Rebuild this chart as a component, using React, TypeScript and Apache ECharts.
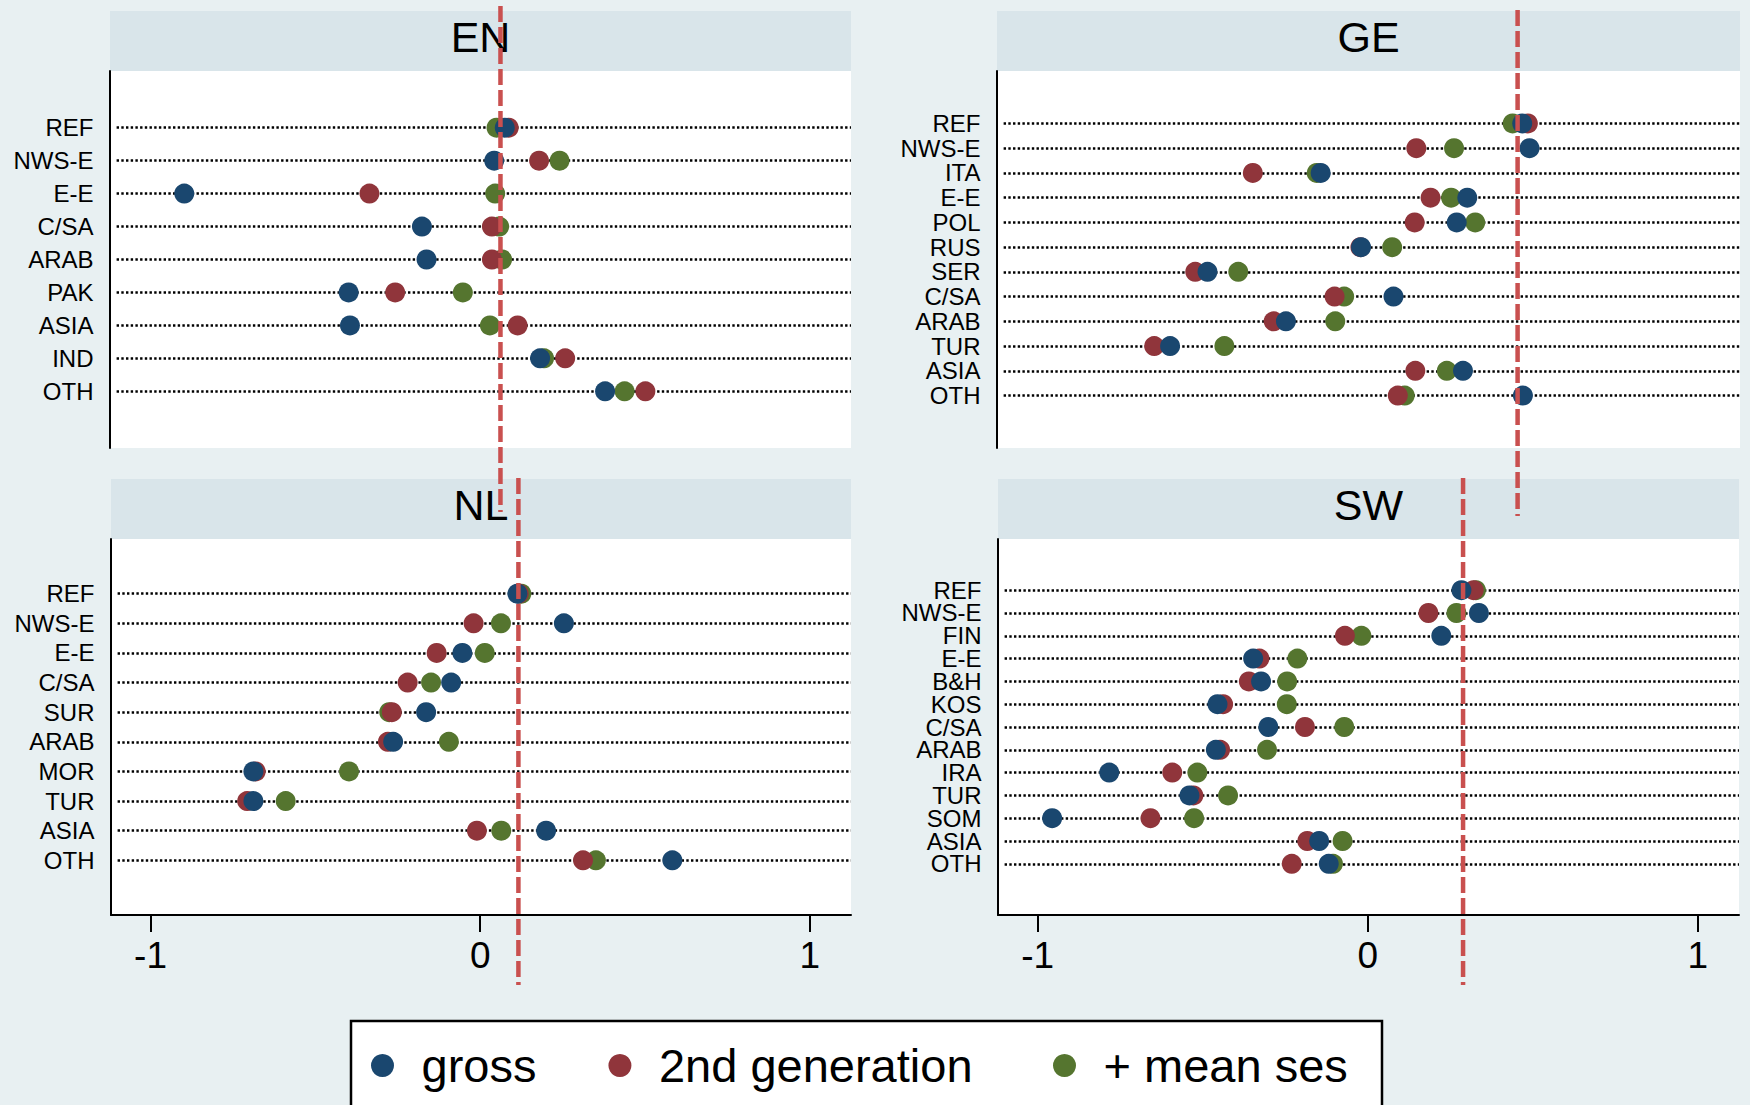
import React, { useEffect, useRef } from "react";
import * as echarts from "echarts";

const FONT = "'Liberation Sans', Arial, Helvetica, sans-serif";

// Legend / series names
const seriesNames = ["gross", "2nd generation", "+ mean ses"];
const COLOR_GROSS = "#1a476f";
const COLOR_SECOND = "#90353b";
const COLOR_SES = "#55752f";

// Shared x axis
const xTicks = [-1, 0, 1];
const X_MIN = -1.12;
const X_MAX = 1.125;

// EN
const enCats = ["REF", "NWS-E", "E-E", "C/SA", "ARAB", "PAK", "ASIA", "IND", "OTH"];
const enGross = [0.076, 0.044, -0.895, -0.175, -0.161, -0.397, -0.393, 0.183, 0.38];
const enSecond = [0.088, 0.18, -0.334, 0.037, 0.037, -0.256, 0.115, 0.259, 0.502];
const enSes = [0.051, 0.242, 0.047, 0.059, 0.068, -0.051, 0.031, 0.195, 0.439];
const enRef = 0.063;

// GE
const geCats = ["REF", "NWS-E", "ITA", "E-E", "POL", "RUS", "SER", "C/SA", "ARAB", "TUR", "ASIA", "OTH"];
const geGross = [0.467, 0.489, -0.142, 0.301, 0.269, -0.02, -0.484, 0.078, -0.247, -0.597, 0.288, 0.469];
const geSecond = [0.484, 0.147, -0.347, 0.19, 0.142, -0.022, -0.521, -0.1, -0.284, -0.645, 0.144, 0.091];
const geSes = [0.438, 0.261, -0.154, 0.252, 0.325, 0.074, -0.391, -0.071, -0.098, -0.433, 0.239, 0.112];
const geRef = 0.453;

// NL
const nlCats = ["REF", "NWS-E", "E-E", "C/SA", "SUR", "ARAB", "MOR", "TUR", "ASIA", "OTH"];
const nlGross = [0.113, 0.254, -0.054, -0.088, -0.164, -0.264, -0.688, -0.688, 0.2, 0.583];
const nlSecond = [0.117, -0.02, -0.132, -0.22, -0.268, -0.28, -0.681, -0.707, -0.01, 0.312];
const nlSes = [0.125, 0.063, 0.014, -0.149, -0.276, -0.095, -0.398, -0.59, 0.064, 0.351];
const nlRef = 0.116;

// SW
const swCats = ["REF", "NWS-E", "FIN", "E-E", "B&H", "KOS", "C/SA", "ARAB", "IRA", "TUR", "SOM", "ASIA", "OTH"];
const swGross = [0.284, 0.337, 0.223, -0.347, -0.323, -0.455, -0.301, -0.46, -0.783, -0.54, -0.956, -0.147, -0.118];
const swSecond = [0.321, 0.184, -0.069, -0.328, -0.36, -0.438, -0.19, -0.447, -0.592, -0.528, -0.658, -0.183, -0.23];
const swSes = [0.328, 0.269, -0.019, -0.213, -0.244, -0.245, -0.071, -0.305, -0.516, -0.423, -0.526, -0.076, -0.105];
const swRef = 0.289;

const panels = [
  { title: "EN", cats: enCats, gross: enGross, second: enSecond, ses: enSes, ref: enRef,
    grid: { left: 110, top: 71, width: 741, height: 377 }, pad: 1.72, showX: false, dash: [6, 512] },
  { title: "GE", cats: geCats, gross: geGross, second: geSecond, ses: geSes, ref: geRef,
    grid: { left: 997, top: 71, width: 743, height: 377 }, pad: 2.12, showX: false, dash: [10, 516] },
  { title: "NL", cats: nlCats, gross: nlGross, second: nlSecond, ses: nlSes, ref: nlRef,
    grid: { left: 111, top: 539, width: 740, height: 376 }, pad: 1.845, showX: true, dash: [478, 985] },
  { title: "SW", cats: swCats, gross: swGross, second: swSecond, ses: swSes, ref: swRef,
    grid: { left: 998, top: 539, width: 741, height: 376 }, pad: 2.245, showX: true, dash: [478, 985] },
];

export default function App() {
  const ref = useRef<HTMLDivElement>(null);

  useEffect(() => {
    if (!ref.current) return;
    const chart = echarts.init(ref.current, null, { renderer: "svg" });

    const grids = panels.map((p) => ({
      left: p.grid.left,
      top: p.grid.top,
      width: p.grid.width,
      height: p.grid.height,
      show: true,
      backgroundColor: "#ffffff",
      borderWidth: 0,
    }));

    const xAxes = panels.map((p, i) => ({
      type: "value",
      gridIndex: i,
      min: X_MIN,
      max: X_MAX,
      show: p.showX,
      axisLine: { show: true, onZero: false, lineStyle: { color: "#000", width: 2 } },
      axisTick: { show: true, length: 17, lineStyle: { color: "#000", width: 2 }, customValues: xTicks },
      axisLabel: {
        customValues: xTicks,
        fontSize: 37,
        color: "#000",
        margin: 22,
        fontFamily: FONT,
        formatter: (v: number) => String(v),
      },
      splitLine: { show: false },
    }));

    const yAxes = panels.map((p, i) => ({
      type: "value",
      gridIndex: i,
      inverse: true,
      min: -p.pad,
      max: p.cats.length - 1 + p.pad,
      axisLine: { show: true, onZero: false, lineStyle: { color: "#000", width: 2 } },
      axisTick: { show: false },
      axisLabel: { show: false },
      splitLine: { show: false },
    }));

    const series: any[] = [];
    panels.forEach((p, i) => {
      // category labels, placed at the left edge of the plot via the axis scale
      series.push({
        type: "scatter",
        name: "labels" + p.title,
        xAxisIndex: i,
        yAxisIndex: i,
        clip: false,
        silent: true,
        symbolSize: 1,
        itemStyle: { color: "rgba(0,0,0,0)" },
        data: p.cats.map((c, k) => ({ value: [X_MIN, k], name: c })),
        label: {
          show: true,
          position: "left",
          distance: 16,
          formatter: (prm: any) => prm.name,
          fontSize: 24,
          lineHeight: 20,
          color: "#000",
          opacity: 1,
          fontFamily: FONT,
        },
        labelLayout: { hideOverlap: false },
        z: 3,
      });
      series.push({
        type: "scatter",
        name: seriesNames[2],
        xAxisIndex: i,
        yAxisIndex: i,
        data: p.ses.map((v, k) => [v, k]),
        symbolSize: 20,
        itemStyle: { color: COLOR_SES, opacity: 1 },
        z: 6,
        markLine: {
          silent: true,
          symbol: "none",
          label: { show: false },
          lineStyle: { color: "#000", width: 2.5, type: [2.4, 2.3] },
          data: p.cats.map((_, k) => [
            { coord: [X_MIN + 0.02, k] },
            { coord: [X_MAX, k] },
          ]),
        },
      });
      series.push({
        type: "scatter",
        name: seriesNames[1],
        xAxisIndex: i,
        yAxisIndex: i,
        data: p.second.map((v, k) => [v, k]),
        symbolSize: 20,
        itemStyle: { color: COLOR_SECOND, opacity: 1 },
        z: 6,
      });
      series.push({
        type: "scatter",
        name: seriesNames[0],
        xAxisIndex: i,
        yAxisIndex: i,
        data: p.gross.map((v, k) => [v, k]),
        symbolSize: 20,
        itemStyle: { color: COLOR_GROSS, opacity: 1 },
        z: 6,
      });
      // dashed red reference line (extends beyond the panel)
      series.push({
        type: "custom",
        name: "ref" + p.title,
        xAxisIndex: i,
        yAxisIndex: i,
        clip: false,
        silent: true,
        z: 100,
        data: [[p.ref, 0]],
        encode: { x: 0, y: 1 },
        renderItem: (_params: any, api: any) => {
          const pt = api.coord([api.value(0), 0]);
          return {
            type: "line",
            shape: { x1: pt[0], y1: p.dash[0], x2: pt[0], y2: p.dash[1] },
            style: {
              stroke: "#c9504f",
              lineWidth: 4.5,
              lineDash: [16, 5],
            },
          };
        },
      });
    });

    const graphics: any[] = [];
    panels.forEach((p, i) => {
      graphics.push({
        type: "rect",
        id: "bar" + i,
        shape: { x: p.grid.left, y: p.grid.top - 60, width: p.grid.width, height: 60 },
        style: { fill: "#d9e5ea" },
        z: 0,
      });
      graphics.push({
        type: "text",
        id: "title" + i,
        x: p.grid.left + p.grid.width / 2,
        y: p.grid.top - 34,
        style: {
          text: p.title,
          fontSize: 43,
          fontFamily: FONT,
          fill: "#000",
          textAlign: "center",
          textVerticalAlign: "middle",
        },
        z: 1,
      });
    });
    graphics.push({
      type: "rect",
      id: "legendBox",
      shape: { x: 351, y: 1021, width: 1031, height: 100 },
      style: { fill: "#ffffff", stroke: "#000", lineWidth: 2.5 },
      z: 0,
    });

    const legendCommon = {
      top: 1042,
      icon: "circle",
      itemWidth: 68,
      itemHeight: 23,
      itemGap: 72,
      padding: 0,
      selectedMode: false,
      textStyle: { fontSize: 47, color: "#000", fontFamily: FONT },
    };

    chart.setOption({
      animation: false,
      backgroundColor: "#e8f0f2",
      textStyle: { fontFamily: FONT },
      grid: grids,
      xAxis: xAxes,
      yAxis: yAxes,
      series,
      legend: [
        { ...legendCommon, data: [seriesNames[0], seriesNames[1]], left: 371 },
        { ...legendCommon, data: [seriesNames[2]], left: 1053 },
      ],
      graphic: graphics,
    });

    return () => chart.dispose();
  }, []);

  return (
    <div
      ref={ref}
      style={{ position: "fixed", left: 0, top: 0, width: 1750, height: 1105 }}
    />
  );
}
